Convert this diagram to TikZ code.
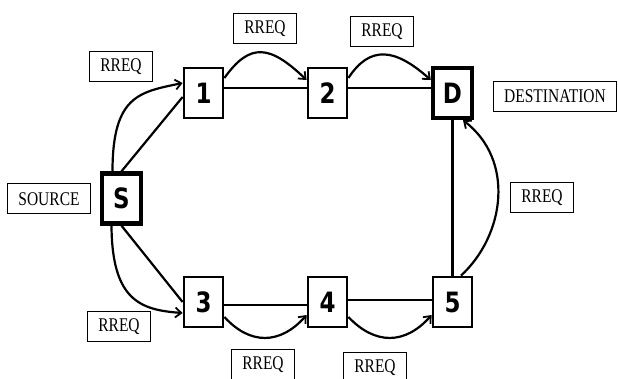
\documentclass[tikz,border=0pt]{standalone}
\usepackage{fontspec}
\setmainfont{Liberation Serif}
\newfontfamily\boxfont{DejaVu Sans}
\usetikzlibrary{arrows.meta}
\tikzset{
  net/.style={draw, line width=2.8pt, minimum width=39pt, minimum height=50pt, inner sep=0pt,
    font=\boxfont\bfseries\fontsize{28}{28}\selectfont},
  endnet/.style={net, line width=4.4pt},
  lab/.style={draw, line width=1pt, minimum height=30pt, inner xsep=11pt, inner ysep=0pt},
  link/.style={line width=2.2pt},
  hop/.style={line width=2.2pt, -{Straight Barb[length=6pt,width=10pt,line width=1.8pt]}},
}
\newcommand{\lt}[1]{\scalebox{1}[1.25]{\fontsize{15.5}{15.5}\selectfont #1}}
\newcommand{\nt}[1]{\scalebox{0.82}[1]{#1}}
\begin{document}
\begin{tikzpicture}[x=1pt,y=-1pt]
\useasboundingbox (0,0) rectangle (618,379);
\clip (0,0) rectangle (618,379);
% nodes
\node[endnet] (S) at (121.5,198.5) {\nt{S}};
\node[net] (n1) at (203.5,93) {\nt{1}};
\node[net] (n2) at (327.5,93) {\nt{2}};
\node[endnet] (D) at (452.5,93) {\nt{D}};
\node[net] (n3) at (203.5,302) {\nt{3}};
\node[net] (n4) at (327.5,302) {\nt{4}};
\node[net] (n5) at (452.5,302) {\nt{5}};
% labels
\node[lab] (l1) at (121,66.5) {\lt{RREQ}};
\node[lab] (l2) at (265,29) {\lt{RREQ}};
\node[lab] (l3) at (382,31.5) {\lt{RREQ}};
\node[lab] (ld) at (555,96.5) {\lt{DESTINATION}};
\node[lab] (ls) at (49,199) {\lt{SOURCE}};
\node[lab] (lr) at (542,197.5) {\lt{RREQ}};
\node[lab] (l4) at (119,326.5) {\lt{RREQ}};
\node[lab] (l5) at (263,364.5) {\lt{RREQ}};
\node[lab] (l6) at (375,367.5) {\lt{RREQ}};
% straight links
\draw[link] (S.north) -- ([yshift=-4pt]n1.west);
\draw[link] (S.south) -- (n3.west);
\draw[link] ([yshift=5pt]n1.east) -- ([yshift=5pt]n2.west);
\draw[link] ([yshift=5pt]n2.east) -- ([yshift=5pt]D.west);
\draw[link] ([yshift=-3pt]n3.east) -- ([yshift=-3pt]n4.west);
\draw[link] ([yshift=2pt]n4.east) -- ([yshift=2pt]n5.west);
\draw[link] (n5.north) -- (D.south);
% RREQ hops
\draw[hop] ([xshift=-9pt]S.north) .. controls (112.5,95) and (140,92) .. ([yshift=10pt]n1.west);
\draw[hop] ([xshift=-10pt]S.south) .. controls (112,300) and (140,310) .. ([yshift=-11pt]n3.west);
\draw[hop] ([yshift=15pt]n1.east) .. controls (250,42) and (270,45) .. ([yshift=13pt]n2.west);
\draw[hop] ([yshift=15pt]n2.east) .. controls (370,45) and (395,48) .. ([yshift=13pt]D.west);
\draw[hop] ([yshift=-15pt]n3.east) .. controls (250,345) and (280,345) .. ([yshift=-13pt]n4.west);
\draw[hop] ([yshift=-15pt]n4.east) .. controls (375,345) and (405,345) .. ([yshift=-13pt]n5.west);
\draw[hop] ([xshift=8.5pt]n5.north) .. controls (505,235) and (515,160) .. ([xshift=10.5pt]D.south);
\end{tikzpicture}
\end{document}
